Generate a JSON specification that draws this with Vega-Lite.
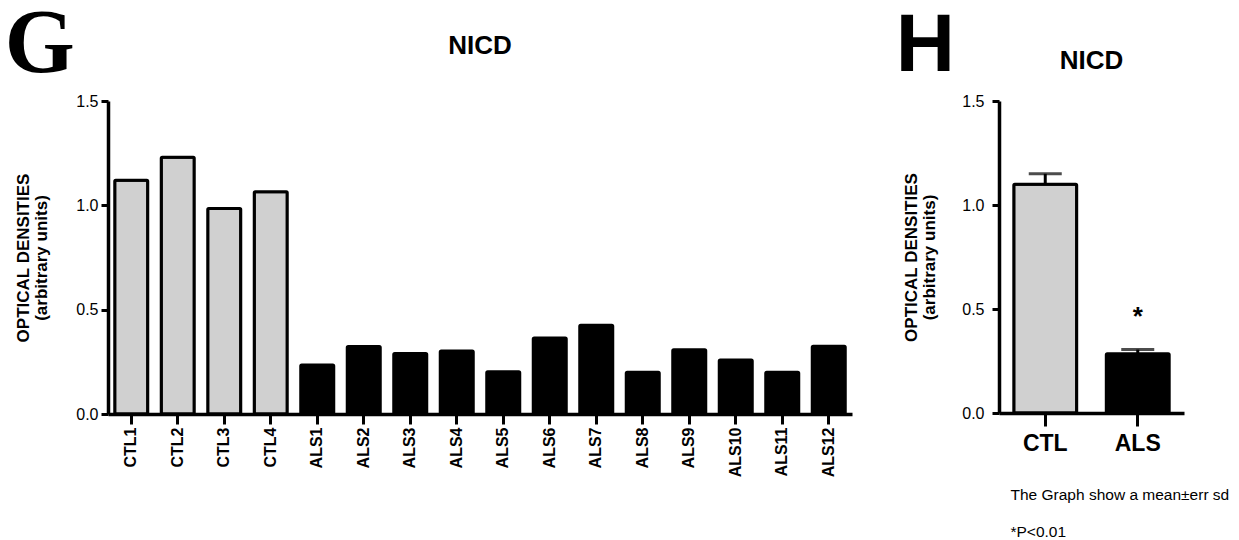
{
  "$schema": "https://vega.github.io/schema/vega-lite/v6.json",
  "background": "white",
  "padding": {"left": 4, "top": 0, "right": 5, "bottom": 0},
  "config": {
    "view": {"stroke": null},
    "font": "Liberation Sans",
    "axis": {
      "domainColor": "black", "domainWidth": 3.5, "tickColor": "black", "tickWidth": 3,
      "labelColor": "black", "titleColor": "black", "grid": false
    }
  },
  "datasets": {
    "g": [
      {"sample": "CTL1", "group": "CTL", "value": 1.12},
      {"sample": "CTL2", "group": "CTL", "value": 1.23},
      {"sample": "CTL3", "group": "CTL", "value": 0.985},
      {"sample": "CTL4", "group": "CTL", "value": 1.065},
      {"sample": "ALS1", "group": "ALS", "value": 0.235},
      {"sample": "ALS2", "group": "ALS", "value": 0.323},
      {"sample": "ALS3", "group": "ALS", "value": 0.29},
      {"sample": "ALS4", "group": "ALS", "value": 0.302},
      {"sample": "ALS5", "group": "ALS", "value": 0.203},
      {"sample": "ALS6", "group": "ALS", "value": 0.364},
      {"sample": "ALS7", "group": "ALS", "value": 0.425},
      {"sample": "ALS8", "group": "ALS", "value": 0.2},
      {"sample": "ALS9", "group": "ALS", "value": 0.308},
      {"sample": "ALS10", "group": "ALS", "value": 0.259},
      {"sample": "ALS11", "group": "ALS", "value": 0.2},
      {"sample": "ALS12", "group": "ALS", "value": 0.325}
    ],
    "h": [
      {"group": "CTL", "mean": 1.1, "upper": 1.15, "mark": "", "markY": 1.2},
      {"group": "ALS", "mean": 0.285, "upper": 0.305, "mark": "*", "markY": 0.425}
    ]
  },
  "spacing": 43,
  "hconcat": [
    {
      "title": {"text": "G", "anchor": "start", "frame": "bounds", "font": "Liberation Serif", "fontSize": 90, "fontWeight": "bold", "color": "black", "offset": -58, "dx": -10},
      "vconcat": [
        {
          "width": 744,
          "height": 313,
          "title": {"text": "NICD", "fontSize": 26, "fontWeight": "bold", "color": "black", "offset": 34},
          "data": {"name": "g"},
          "mark": {"type": "bar", "stroke": "black", "strokeWidth": 3, "cornerRadius": 1},
          "encoding": {
            "x": {
              "field": "sample", "type": "nominal", "sort": null,
              "scale": {"paddingInner": 0.29, "paddingOuter": 0.145},
              "axis": {"title": null, "labelAngle": -90, "labelFontSize": 16, "labelFontWeight": "bold", "tickSize": 10, "labelPadding": 3}
            },
            "y": {
              "field": "value", "type": "quantitative",
              "scale": {"domain": [0, 1.5], "nice": false},
              "axis": {
                "values": [0, 0.5, 1, 1.5], "format": ".1f", "labelFontSize": 16, "tickSize": 7, "labelPadding": 3,
                "title": ["OPTICAL DENSITIES", "(arbitrary units)"], "titleFontSize": 17, "titleFontWeight": "bold",
                "titleLineHeight": 18, "titlePadding": 25
              }
            },
            "fill": {"field": "group", "type": "nominal", "scale": {"domain": ["CTL", "ALS"], "range": ["#d0d0d0", "black"]}, "legend": null}
          }
        }
      ]
    },
    {
      "title": {"text": "H", "anchor": "start", "frame": "bounds", "font": "Liberation Sans", "fontSize": 82, "fontWeight": "bold", "color": "black", "offset": -40, "dx": -7},
      "vconcat": [
        {
          "width": 185,
          "height": 312,
          "title": {"text": "NICD", "fontSize": 26, "fontWeight": "bold", "color": "black", "offset": 19},
          "data": {"name": "h"},
          "encoding": {
            "x": {
              "field": "group", "type": "nominal", "sort": ["CTL", "ALS"],
              "scale": {"paddingInner": 0.32, "paddingOuter": 0.16},
              "axis": {
                "labelAngle": 0, "labelFontSize": 23, "labelFontWeight": "bold", "tickSize": 13, "labelPadding": 6,
                "title": ["The Graph show a mean±err sd", "*P<0.01"], "titleFontSize": 15.5, "titleFontWeight": "normal",
                "titleAnchor": "start", "titleAlign": "left", "titleX": 11, "titleLineHeight": 37, "titlePadding": 32
              }
            }
          },
          "layer": [
            {
              "mark": {"type": "bar", "stroke": "black", "strokeWidth": 3, "cornerRadius": 1},
              "encoding": {
                "y": {
                  "field": "mean", "type": "quantitative",
                  "scale": {"domain": [0, 1.5], "nice": false},
                  "axis": {
                    "values": [0, 0.5, 1, 1.5], "format": ".1f", "labelFontSize": 16, "tickSize": 7, "labelPadding": 8,
                    "title": ["OPTICAL DENSITIES", "(arbitrary units)"], "titleFontSize": 17, "titleFontWeight": "bold",
                    "titleLineHeight": 18, "titlePadding": 23
                  }
                },
                "fill": {"field": "group", "type": "nominal", "scale": {"domain": ["CTL", "ALS"], "range": ["#d0d0d0", "black"]}, "legend": null}
              }
            },
            {
              "mark": {"type": "rule", "color": "black", "strokeWidth": 3},
              "encoding": {
                "y": {"field": "mean", "type": "quantitative"},
                "y2": {"field": "upper"}
              }
            },
            {
              "mark": {"type": "tick", "color": "black", "thickness": 3, "size": 33},
              "encoding": {
                "y": {"field": "upper", "type": "quantitative"}
              }
            },
            {
              "mark": {"type": "text", "fontSize": 26, "fontWeight": "bold", "color": "black", "baseline": "alphabetic"},
              "encoding": {
                "y": {"field": "markY", "type": "quantitative"},
                "text": {"field": "mark"}
              }
            }
          ]
        }
      ]
    }
  ]
}
